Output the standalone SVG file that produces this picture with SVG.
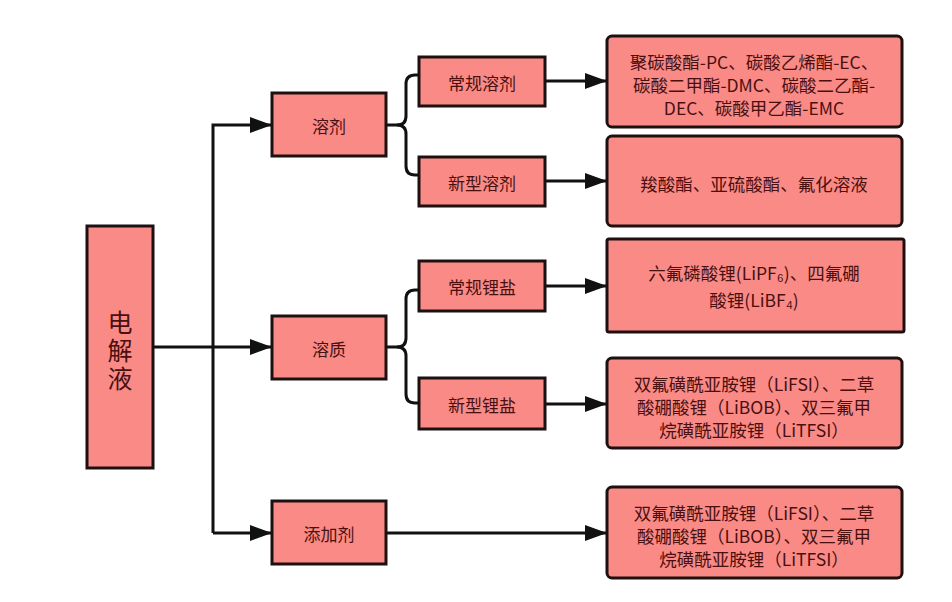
<svg xmlns="http://www.w3.org/2000/svg" width="952" height="602" viewBox="0 0 952 602">
<style>
.box{fill:#f98a86;stroke:#1c1010;stroke-width:3}
.t{font-family:"Noto Sans CJK SC","Liberation Sans",sans-serif;fill:#4a1010;text-anchor:middle;dominant-baseline:central}
.t2{font-size:17px}
.t3{font-size:17.5px}
.main{font-family:"Noto Sans CJK SC","Liberation Sans",sans-serif;fill:#4a1010;font-size:25px;writing-mode:vertical-rl;text-anchor:middle;letter-spacing:3px}
.c{fill:none;stroke:#111;stroke-width:3}
</style>
<defs>
<marker id="ar" markerUnits="userSpaceOnUse" markerWidth="24" markerHeight="18" refX="22" refY="8" orient="auto">
<path d="M0,0 L22,8 L0,16 Z" fill="#111"/>
</marker>
</defs>
<rect width="952" height="602" fill="#ffffff"/>
<g id="connectors">
<path class="c" d="M153,347 H272" marker-end="url(#ar)"/>
<path class="c" d="M213,533 V125 H272" marker-end="url(#ar)"/>
<path class="c" d="M213,533 H272" marker-end="url(#ar)"/>
<path class="c" d="M386,125 H397 Q406,125 406,116 V84 Q406,75 415,75 H419"/>
<path class="c" d="M397,125 Q406,125 406,134 V166 Q406,175 415,175 H419"/>
<path class="c" d="M386,347 H397 Q406,347 406,338 V299 Q406,290 415,290 H419"/>
<path class="c" d="M397,347 Q406,347 406,356 V394 Q406,403 415,403 H419"/>
<path class="c" d="M545,81 H607" marker-end="url(#ar)"/>
<path class="c" d="M545,181 H607" marker-end="url(#ar)"/>
<path class="c" d="M545,286 H607" marker-end="url(#ar)"/>
<path class="c" d="M545,404 H607" marker-end="url(#ar)"/>
<path class="c" d="M386,533 H607" marker-end="url(#ar)"/>
</g>
<g id="n-root">
<rect class="box" x="87" y="226" width="66" height="242"/>
<text class="main" x="120" y="352">电解液</text>
</g>
<g id="n-solvent">
<rect class="box" x="272" y="93" width="114" height="63"/>
<text class="t t2" x="329" y="125">溶剂</text>
</g>
<g id="n-solute">
<rect class="box" x="272" y="316" width="114" height="63"/>
<text class="t t2" x="329" y="348">溶质</text>
</g>
<g id="n-additive">
<rect class="box" x="272" y="501" width="114" height="63"/>
<text class="t t2" x="329" y="533">添加剂</text>
</g>
<g id="n-conv-solvent">
<rect class="box" x="419" y="57" width="126" height="49"/>
<text class="t t2" x="482" y="82">常规溶剂</text>
</g>
<g id="n-new-solvent">
<rect class="box" x="419" y="157" width="126" height="49"/>
<text class="t t2" x="482" y="182">新型溶剂</text>
</g>
<g id="n-conv-salt">
<rect class="box" x="419" y="261" width="126" height="50"/>
<text class="t t2" x="482" y="286">常规锂盐</text>
</g>
<g id="n-new-salt">
<rect class="box" x="419" y="378" width="126" height="51"/>
<text class="t t2" x="482" y="404">新型锂盐</text>
</g>
<g id="n-d1">
<rect class="box" x="607" y="36" width="295" height="91" rx="5"/>
<text class="t t3" x="754" y="61">聚碳酸酯-PC、碳酸乙烯酯-EC、</text>
<text class="t t3" x="754" y="84">碳酸二甲酯-DMC、碳酸二乙酯-</text>
<text class="t t3" x="754" y="107">DEC、碳酸甲乙酯-EMC</text>
</g>
<g id="n-d2">
<rect class="box" x="607" y="136" width="295" height="90" rx="5"/>
<text class="t t3" x="754" y="183">羧酸酯、亚硫酸酯、氟化溶液</text>
</g>
<g id="n-d3">
<rect class="box" x="607" y="239" width="297" height="93" rx="2"/>
<text class="t t3" x="754" y="272">六氟磷酸锂(LiPF₆)、四氟硼</text>
<text class="t t3" x="754" y="299">酸锂(LiBF₄)</text>
</g>
<g id="n-d4">
<rect class="box" x="607" y="358" width="295" height="90" rx="5"/>
<text class="t t3" x="754" y="383">双氟磺酰亚胺锂（LiFSI）、二草</text>
<text class="t t3" x="754" y="406">酸硼酸锂（LiBOB）、双三氟甲</text>
<text class="t t3" x="754" y="429">烷磺酰亚胺锂（LiTFSI）</text>
</g>
<g id="n-d5">
<rect class="box" x="607" y="487" width="295" height="91" rx="5"/>
<text class="t t3" x="754" y="512">双氟磺酰亚胺锂（LiFSI）、二草</text>
<text class="t t3" x="754" y="535">酸硼酸锂（LiBOB）、双三氟甲</text>
<text class="t t3" x="754" y="558">烷磺酰亚胺锂（LiTFSI）</text>
</g>
</svg>
